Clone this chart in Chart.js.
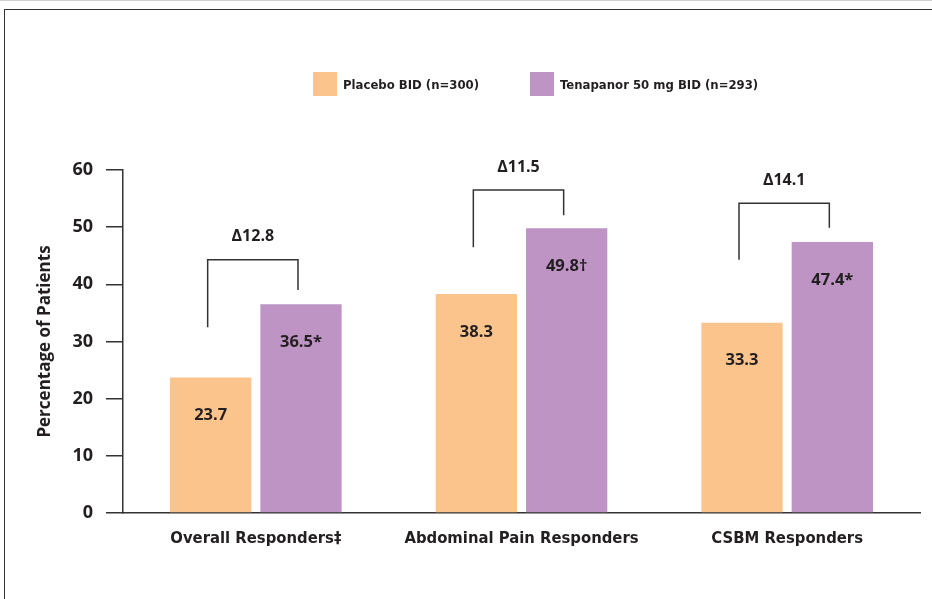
<!DOCTYPE html>
<html>
<head>
<meta charset="utf-8">
<script src="https://cdn.jsdelivr.net/npm/chart.js@4"></script>
<style>
  html, body { margin: 0; padding: 0; background: #fff; }
  #wrap { position: relative; width: 932px; height: 599px; overflow: hidden; }
  #topline { position: absolute; left: 0; top: 0; width: 932px; border-top: 1px solid #d0d0d0; }
  #frame { position: absolute; left: 4px; top: 9px; width: 940px; height: 600px;
           border-left: 1.5px solid #333; border-top: 1.5px solid #333; }
  #legend { position: absolute; left: 313px; top: 72px; display: flex; align-items: center;
            font: bold 13px "Liberation Sans Narrow", "DejaVu Sans Condensed", sans-serif; color: #231f20; }
  #legend .item { display: flex; align-items: center; margin-right: 51px; }
  #legend .box { width: 24px; height: 24px; margin-right: 6px; }
  canvas { position: absolute; left: 0; top: 0; }
</style>
</head>
<body>
<div id="wrap">
  <div id="topline"></div>
  <div id="frame"></div>
  <canvas id="chart" width="932" height="599"></canvas>
  <div id="legend"></div>
</div>
<script>
// Responder rates by endpoint, placebo vs tenapanor
const categories = ['Overall Responders‡', 'Abdominal Pain Responders', 'CSBM Responders'];
const seriesNames = ['Placebo BID (n=300)', 'Tenapanor 50 mg BID (n=293)'];
const placeboValues = [23.7, 38.3, 33.3];
const tenapanorValues = [36.5, 49.8, 47.4];
const placeboLabels = ['23.7', '38.3', '33.3'];
const tenapanorLabels = ['36.5*', '49.8†', '47.4*'];
const deltaLabels = ['Δ12.8', 'Δ11.5', 'Δ14.1'];
// bracket geometry in data units (top bar, left leg end, right leg end)
const bracketTop = [44.3, 56.5, 54.2];
const bracketLeftEnd = [32.5, 46.5, 44.3];
const bracketRightEnd = [39.0, 52.1, 49.9];
const yTicks = [0, 10, 20, 30, 40, 50, 60];

const colors = ['#fbc48d', '#bd94c4'];
const ink = '#231f20';
const wideFont = '"Open Sans", "Noto Sans", sans-serif';
const narrowFont = '"Liberation Sans Narrow", "DejaVu Sans Condensed", sans-serif';

const annotations = {
  id: 'annotations',
  afterDatasetsDraw(chart) {
    const ctx = chart.ctx;
    const y = chart.scales.y;
    const m0 = chart.getDatasetMeta(0).data;
    const m1 = chart.getDatasetMeta(1).data;
    ctx.save();
    ctx.fillStyle = ink;
    ctx.textAlign = 'center';
    ctx.textBaseline = 'middle';
    categories.forEach((c, i) => {
      ctx.font = 'bold 16.5px ' + wideFont;
      ctx.fillText(placeboLabels[i], m0[i].x, m0[i].y + 38);
      ctx.fillText(tenapanorLabels[i], m1[i].x, m1[i].y + 38);

      const xl = m0[i].x - 3, xr = m1[i].x - 3;
      const top = y.getPixelForValue(bracketTop[i]);
      ctx.strokeStyle = '#333';
      ctx.lineWidth = 1.5;
      ctx.beginPath();
      ctx.moveTo(xl, y.getPixelForValue(bracketLeftEnd[i]));
      ctx.lineTo(xl, top);
      ctx.lineTo(xr, top);
      ctx.lineTo(xr, y.getPixelForValue(bracketRightEnd[i]));
      ctx.stroke();
      ctx.font = 'bold 16px ' + wideFont;
      ctx.fillText(deltaLabels[i], (xl + xr) / 2, top - 23);
    });
    ctx.restore();
  }
};

const chart = new Chart(document.getElementById('chart'), {
  type: 'bar',
  data: {
    labels: categories,
    datasets: [
      { label: seriesNames[0], data: placeboValues, backgroundColor: colors[0] },
      { label: seriesNames[1], data: tenapanorValues, backgroundColor: colors[1] },
    ]
  },
  options: {
    responsive: false,
    animation: false,
    categoryPercentage: 0.68,
    barPercentage: 0.9,
    layout: { padding: { top: 170, right: 12, left: 0, bottom: 0 } },
    plugins: { legend: { display: false }, tooltip: { enabled: false } },
    scales: {
      x: {
        grid: { display: false, drawTicks: false },
        border: { display: true, color: '#333', width: 1.5 },
        ticks: { color: ink, font: { family: narrowFont, size: 16.5, weight: 'bold' }, padding: 16, maxRotation: 0 },
        afterFit: s => { s.height = 86; }
      },
      y: {
        min: 0, max: 60,
        afterBuildTicks: s => { s.ticks = yTicks.map(v => ({ value: v })); },
        grid: { drawOnChartArea: false, drawTicks: true, tickLength: 17, color: '#333', lineWidth: 1.5 },
        border: { display: true, color: '#333', width: 1.5 },
        ticks: { color: ink, font: { family: wideFont, size: 18, weight: 'bold' }, padding: 13 },
        title: { display: true, text: 'Percentage of Patients', color: ink,
                 font: { family: wideFont, size: 17, weight: 'bold' }, padding: { top: 35, bottom: 0 } },
        afterFit: s => { s.width = 123; }
      }
    }
  },
  plugins: [annotations]
});

// legend built from the datasets
const legend = document.getElementById('legend');
chart.data.datasets.forEach(ds => {
  const item = document.createElement('div');
  item.className = 'item';
  item.innerHTML = '<span class="box" style="background:' + ds.backgroundColor + '"></span><span>' + ds.label + '</span>';
  legend.appendChild(item);
});
</script>
</body>
</html>
